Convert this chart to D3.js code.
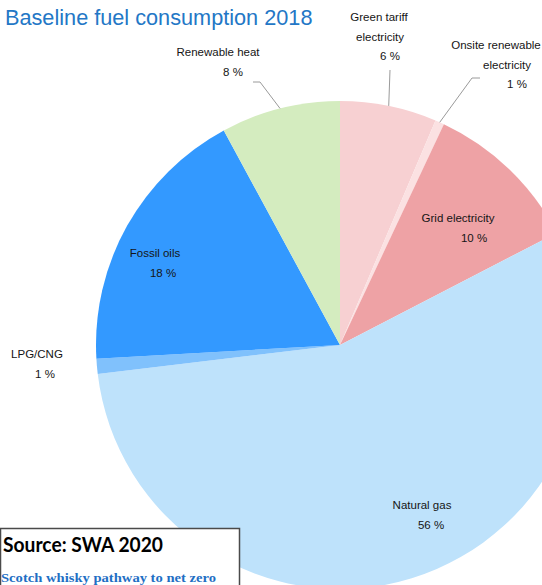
<!DOCTYPE html>
<html>
<head>
<meta charset="utf-8">
<script src="https://cdn.jsdelivr.net/npm/d3@7"></script>
<style>
  html, body { margin: 0; padding: 0; background: #fff; }
  svg { display: block; }
</style>
</head>
<body>
<svg id="chart" width="542" height="585"></svg>
<script>
// ---- data ----
const categories = [
  "Green tariff\nelectricity",
  "Onsite renewable\nelectricity",
  "Grid electricity",
  "Natural gas",
  "LPG/CNG",
  "Fossil oils",
  "Renewable heat"
];
const values = [6.4, 0.6, 10.4, 55.7, 1.0, 18.0, 7.9];
const colors = ["#f7d0d2", "#fbe1e2", "#eea2a5", "#bee2fb", "#80c1fc", "#3399ff", "#d4ecbf"];
const titleText = "Baseline fuel consumption 2018";
const sourceText = "Source: SWA 2020";
const subText = "Scotch whisky pathway to net zero";

// ---- layout (label placement) ----
const cx = 340, cy = 345, R = 244;
const labelLayout = [
  { xs: [379, 380, 390], y: 21, leader: [[390, 70]] },
  { xs: [496, 507, 517], y: 49, leader: [[472, 78], [480, 78]] },
  { xs: [458, 474], y: 222 },
  { xs: [422, 431], y: 509 },
  { xs: [37, 45], y: 358 },
  { xs: [155, 163], y: 257 },
  { xs: [218, 233], y: 56, leader: [[260, 82], [253, 82]] }
];
const lineGap = 19.5;

const svg = d3.select("#chart");
const data = categories.map((c, i) => ({ name: c, value: values[i], color: colors[i], layout: labelLayout[i] }));

const pie = d3.pie().sort(null).value(d => d.value).startAngle(0).endAngle(2 * Math.PI);
const arcs = pie(data);
const arc = d3.arc().innerRadius(0).outerRadius(R);

const g = svg.append("g").attr("transform", `translate(${cx},${cy})`);
g.selectAll("path.slice")
  .data(arcs)
  .join("path")
  .attr("class", "slice")
  .attr("d", arc)
  .attr("fill", d => d.data.color);

// leader lines
arcs.forEach(a => {
  const lay = a.data.layout;
  if (!lay.leader) return;
  const mid = (a.startAngle + a.endAngle) / 2;
  const p0 = [cx + R * Math.sin(mid), cy - R * Math.cos(mid)];
  const pts = [p0].concat(lay.leader);
  svg.append("path")
    .attr("d", d3.line()(pts))
    .attr("fill", "none")
    .attr("stroke", "#9a9a9a")
    .attr("stroke-width", 1);
});

// labels
arcs.forEach(a => {
  const lay = a.data.layout;
  const lines = a.data.name.split("\n").concat([Math.round(a.data.value) + " %"]);
  lines.forEach((t, k) => {
    svg.append("text")
      .attr("x", lay.xs[k])
      .attr("y", lay.y + k * lineGap)
      .attr("text-anchor", "middle")
      .attr("font-family", "Liberation Sans, Arial, sans-serif")
      .attr("font-size", 11.5)
      .attr("fill", "#151515")
      .text(t);
  });
});

// title
svg.append("text")
  .attr("x", 5).attr("y", 25)
  .attr("font-family", "Liberation Sans, Arial, sans-serif")
  .attr("font-size", 21.7)
  .attr("fill", "#2377c6")
  .text(titleText);

// source box
svg.append("rect")
  .attr("x", 0.5).attr("y", 528.5)
  .attr("width", 239).attr("height", 70)
  .attr("fill", "#fff")
  .attr("stroke", "#4a4a4a")
  .attr("stroke-width", 1.5);
svg.append("text")
  .attr("x", 3).attr("y", 552)
  .attr("font-family", "Lato, 'Open Sans', sans-serif")
  .attr("font-weight", "bold")
  .attr("font-size", 20)
  .attr("fill", "#000")
  .attr("textLength", 160)
  .attr("lengthAdjust", "spacingAndGlyphs")
  .text(sourceText);
svg.append("text")
  .attr("x", 1).attr("y", 582)
  .attr("font-family", "Liberation Serif, 'Times New Roman', serif")
  .attr("font-weight", "bold")
  .attr("font-size", 13)
  .attr("fill", "#1f6fc4")
  .attr("textLength", 215)
  .attr("lengthAdjust", "spacingAndGlyphs")
  .text(subText);
</script>
</body>
</html>
